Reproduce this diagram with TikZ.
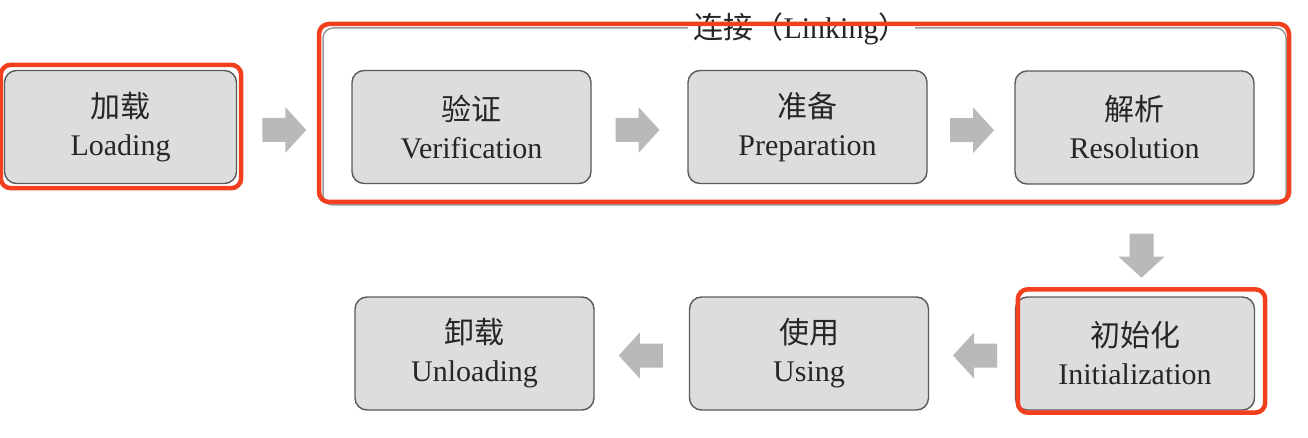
\documentclass[tikz,border=0pt]{standalone}
\usepackage{fontspec}
\setmainfont{Liberation Serif}
\newfontfamily\cjk{Noto Sans CJK SC}
\usetikzlibrary{calc}
\definecolor{boxfill}{HTML}{DDDDDF}
\definecolor{boxline}{HTML}{5A5A5A}
\definecolor{arrowgray}{HTML}{B9B9BC}
\definecolor{hilite}{HTML}{F2401F}
\definecolor{txt}{HTML}{262626}
\tikzset{
  stage/.style={draw=boxline, line width=1.4pt, fill=boxfill, rounded corners=12pt,
    minimum width=239pt, minimum height=113pt, align=center, text=txt,
    font=\fontsize{30}{38}\selectfont, inner sep=0pt},
  redframe/.style={draw=hilite, line width=4.5pt, rounded corners=10pt},
  groupframe/.style={draw=gray!80, line width=1.5pt, rounded corners=10pt},
  pics/blockarrow/.style={code={
    \fill[arrowgray] (-22,-12) -- (1,-12) -- (1,-23) -- (22,0) -- (1,23) -- (1,12) -- (-22,12) -- cycle;
  }}
}
\begin{document}
\begin{tikzpicture}[x=1pt, y=-1pt]
\useasboundingbox (0,0) rectangle (1308,438);

% group frame for the linking phase
\draw[groupframe] (323,28) rectangle (1286,205);
\node[fill=white, inner xsep=6pt, inner ysep=2pt, text=txt, font=\fontsize{30}{32}\selectfont]
  (linklabel) at (801,29) {{\cjk 连接（}Linking{\cjk ）}};

% stages
\node[stage, minimum width=232pt] (load) at (120.5,127) {{\cjk 加载}\\Loading};
\node[stage] (verif) at (471.5,127) {{\cjk 验证}\\Verification};
\node[stage] (prep)  at (807.5,127) {{\cjk 准备}\\Preparation};
\node[stage] (resol) at (1134.5,127.5) {{\cjk 解析}\\Resolution};
\node[stage] (init)  at (1135,353.5) {{\cjk 初始化}\\Initialization};
\node[stage] (using) at (809,353.5) {{\cjk 使用}\\Using};
\node[stage] (unld)  at (474.5,353.5) {{\cjk 卸载}\\Unloading};

% transitions
\pic at ($(load.east)!0.5!(verif.west)+(-10,3)$) {blockarrow};
\pic at ($(verif.east)!0.5!(prep.west)+(-2,3)$) {blockarrow};
\pic at ($(prep.east)!0.5!(resol.west)+(1,3)$) {blockarrow};
\pic[rotate=-90] at ($(resol.south)+(7,71)$) {blockarrow};
\pic[rotate=180] at ($(init.west)!0.5!(using.east)+(3,2)$) {blockarrow};
\pic[rotate=180] at ($(using.west)!0.5!(unld.east)+(-1,2)$) {blockarrow};

% highlight frames
\draw[redframe] ($(load.north west)+(-3,-5)$) rectangle ($(load.south east)+(4,4)$);
\draw[redframe] (319,24) rectangle (1289,202);
\draw[redframe] ($(init.north west)+(3,-7)$) rectangle ($(init.south east)+(10,2)$);
\end{tikzpicture}
\end{document}
